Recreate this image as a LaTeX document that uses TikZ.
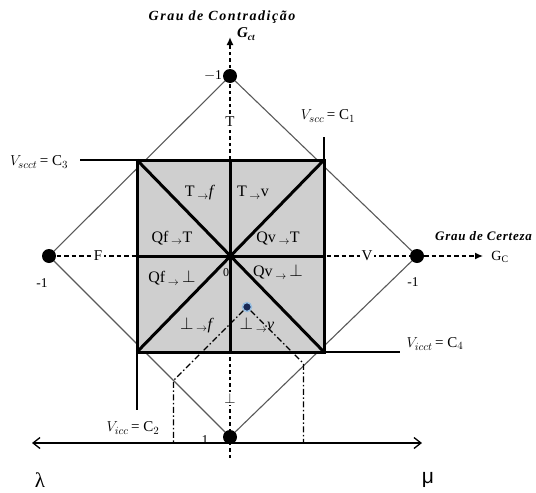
\documentclass[tikz,border=0pt]{standalone}
\usepackage{fontspec}
\setmainfont{Liberation Serif}
\newfontfamily\sansfont{Liberation Sans}
\usetikzlibrary{arrows.meta,calc}
\definecolor{navy}{RGB}{25,40,85}
\definecolor{halo}{RGB}{150,190,225}
\begin{document}
\begin{tikzpicture}[x=1pt,y=-1pt,
  diamondline/.style={draw=black!65, line width=1.1pt},
  sqline/.style={line width=3pt},
  extline/.style={line width=1.6pt},
  axisv/.style={line width=2pt, dash pattern=on 3.5pt off 3pt},
  axish/.style={line width=1.3pt, dash pattern=on 4.5pt off 3pt},
  proj/.style={line width=1.1pt, dash pattern=on 6pt off 2.5pt on 1.5pt off 2.5pt},
  bigdot/.style={circle, fill=black, inner sep=0pt, minimum size=14pt},
  region/.style={font=\fontsize{16}{18}\selectfont, inner sep=1pt},
  axlabel/.style={fill=white, inner sep=1.5pt, font=\fontsize{15}{17}\selectfont},
  vlabel/.style={font=\fontsize{15}{17}\selectfont, inner sep=1pt},
  numlabel/.style={font=\fontsize{13.5}{15}\selectfont, inner sep=1pt},
  titlelabel/.style={font=\fontsize{14}{16}\selectfont\bfseries\itshape\addfontfeature{LetterSpace=11}, inner sep=1pt}]
\useasboundingbox (0,0) rectangle (536,493);
% key points
\coordinate (O) at (230,256);
\coordinate (Dt) at (230,76);
\coordinate (Dr) at (417,256);
\coordinate (Db) at (230,437);
\coordinate (Dl) at (49,256);
\coordinate (tl) at (137,160);
\coordinate (tr) at (324,160);
\coordinate (br) at (324,352);
\coordinate (bl) at (137,352);
\coordinate (tm) at (230,160);
\coordinate (bm) at (230,352);
\coordinate (lm) at (137,256);
\coordinate (rm) at (324,256);
\coordinate (vtop) at (230,37);
\coordinate (vbot) at (230,458);
\coordinate (hend) at (483,256);
\coordinate (axL) at (32,443);
\coordinate (axR) at (422,443);
\coordinate (e3) at (80,160);
\coordinate (e1) at (324,137);
\coordinate (e4) at (400,352);
\coordinate (e2) at (137,410);
\coordinate (fl) at (173.5,380.5);
\coordinate (fr) at (303.5,363.5);
% axes
\draw[axisv, -{Latex[length=8pt,width=7pt]}] (vbot) -- (vtop);
\draw[axish, -{Latex[length=8pt,width=7pt]}] (Dl) -- (hend);
% diamond
\draw[diamondline] (Dt) -- (Dr) -- (Db) -- (Dl) -- cycle;
% square
\fill[gray!38] (tl) rectangle (br);
\draw[sqline] (tl) rectangle (br);
\draw[sqline] (tl) -- (br);
\draw[sqline] (tr) -- (bl);
\draw[sqline] (tm) -- (bm);
\draw[sqline] (lm) -- (rm);
% extensions
\draw[extline] (tl) -- (e3);
\draw[extline] (tr) -- (e1);
\draw[extline] (br) -- (e4);
\draw[extline] (bl) -- (e2);
% bottom axis
\draw[line width=1.3pt, {Straight Barb[length=7pt,width=11pt]}-{Straight Barb[length=7pt,width=11pt]}] (axL) -- (axR);
% projection lines
\node[circle, fill=navy, draw=halo, line width=1.4pt, minimum size=9pt, inner sep=0pt] (P) at (247,307) {};
\draw[proj] (P) -- (fl) -- (fl |- axL);
\draw[proj] (P) -- (fr) -- (fr |- axL);
% dots
\node[bigdot] (dT) at (Dt) {};
\node[bigdot] (dR) at (Dr) {};
\node[bigdot] (dB) at (Db) {};
\node[bigdot] (dL) at (Dl) {};
% axis labels
\node[axlabel] (lF) at (98,256) {F};
\node[axlabel] (lV) at (367,256) {V};
\node[axlabel] (lT) at (230,122) {T};
\node[axlabel] (lB) at (230,398) {$\bot$};
% numbers
\node[numlabel] (n1) at (213,76) {$-$1};
\node[numlabel] (n2) at (42,283) {-1};
\node[numlabel] (n3) at (413,282) {-1};
\node[numlabel] (n4) at (205,440) {1};
\node[font=\fontsize{12}{13}\selectfont, inner sep=1pt] (n0) at (226,273) {0};
% region labels
\node[region] (r1) at (200,193) {T\,$_{\rightarrow}$\textit{f}};
\node[region] (r2) at (253,193) {T\,$_{\rightarrow}$v};
\node[region] (r3) at (172,238) {Qf\,$_{\rightarrow}$T};
\node[region] (r4) at (278,238) {Qv\,$_{\rightarrow}$T};
\node[region] (r5) at (172,278) {Qf\,$_{\rightarrow}$\,$\bot$};
\node[region] (r6) at (278,272) {Qv\,$_{\rightarrow}$\,$\bot$};
\node[region] (r7) at (197,325) {$\bot$\,$_{\rightarrow}$\textit{f}};
\node[region] (r8) at (257,325) {$\bot$\,$_{\rightarrow}$\textit{v}};
% V labels
\node[vlabel] (c1) at (328,116) {$V_{scc}$\,= C$_1$};
\node[vlabel] (c3) at (39,162) {$V_{scct}$\,= C$_3$};
\node[vlabel] (c4) at (435,344) {$V_{icct}$\,= C$_4$};
\node[vlabel] (c2) at (133,428) {$V_{icc}$\,= C$_2$};
% titles
\node[titlelabel] (tct) at (222,17) {Grau de Contradição};
\node[font=\fontsize{15}{17}\selectfont\bfseries\itshape, inner sep=1pt] (gct) at (246,34) {G\raisebox{-3pt}{\fontsize{9.5}{10}\selectfont ct}};
\node[titlelabel, font=\fontsize{13}{15}\selectfont\bfseries\itshape\addfontfeature{LetterSpace=6}, anchor=west] (tce) at (434,236) {Grau de Certeza};
\node[font=\fontsize{14}{16}\selectfont, inner sep=1pt] (gc) at (500,257) {G$_{\mathrm{C}}$};
% lambda mu
\node[font=\fontsize{21}{23}\selectfont, inner sep=1pt] (lam) at (40,480) {λ};
\node[font=\fontsize{21}{23}\selectfont\sansfont, inner sep=1pt] (mu) at (428,480) {μ};
\end{tikzpicture}
\end{document}
